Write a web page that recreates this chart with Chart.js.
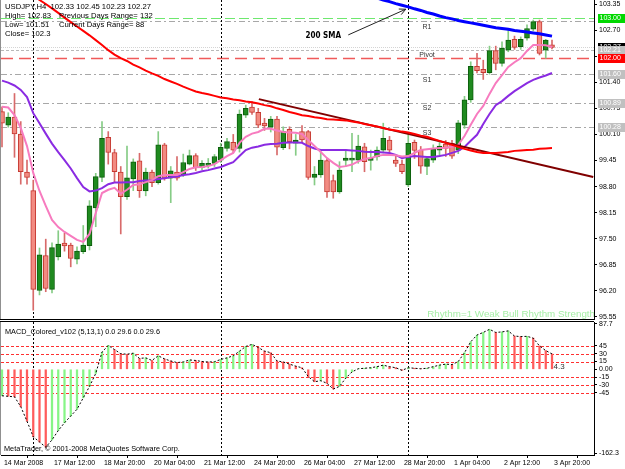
<!DOCTYPE html>
<html><head><meta charset="utf-8">
<script src="https://cdn.jsdelivr.net/npm/chart.js@4/dist/chart.umd.min.js"></script>
<style>
html,body{margin:0;padding:0;background:#fff;}
#wrap{position:relative;width:625px;height:469px;overflow:hidden;background:#fff;}
#c1{position:absolute;left:0;top:0;}
#c2{position:absolute;left:0;top:320px;}
</style></head><body>
<div id="wrap"><canvas id="c1" width="625" height="320"></canvas><canvas id="c2" width="625" height="149"></canvas></div>
<script>
// ---------- DATA ----------
const timeLabels = ['14 Mar 2008','17 Mar 12:00','18 Mar 20:00','20 Mar 04:00','21 Mar 12:00','24 Mar 20:00','26 Mar 04:00','27 Mar 12:00','28 Mar 20:00','1 Apr 04:00','2 Apr 12:00','3 Apr 20:00'];
const timeLabelBars = [0,8,16,24,32,40,48,56,64,72,80,88];
const weekStartBars = [5,35,65];

const openP = [100.67,100.33,100.53,100.11,99.16,98.70,96.21,97.08,96.24,97.05,
97.39,97.34,96.99,97.18,97.33,98.27,99.03,100.03,99.65,99.16,
98.55,98.99,99.44,98.69,99.16,98.90,99.84,99.01,99.16,99.09,
99.36,99.57,99.28,99.33,99.38,99.46,99.75,99.90,99.75,100.58,
100.78,100.65,100.38,100.28,100.48,99.77,100.23,99.88,100.17,100.17,
99.03,99.09,99.45,98.95,98.67,99.45,99.46,99.46,99.79,99.45,
99.54,99.71,99.96,99.46,99.36,98.84,99.90,99.71,99.30,99.46,
99.71,99.86,99.88,99.71,100.33,100.96,101.80,101.72,101.64,102.19,
101.87,102.20,102.47,102.29,102.50,102.72,102.91,102.20,102.33];
const highP = [100.79,100.64,101.12,100.42,99.46,98.96,97.27,97.49,97.40,97.70,
97.64,97.39,97.30,97.83,98.45,99.13,100.42,100.17,99.73,99.30,
99.81,99.49,99.63,99.26,99.21,100.17,99.88,99.30,99.55,99.61,
99.71,99.62,99.45,99.50,99.60,99.88,100.00,100.10,100.71,100.83,
100.92,100.75,100.50,100.55,100.55,100.29,100.29,100.10,100.32,100.20,
99.30,99.67,99.50,99.09,99.42,99.71,100.13,100.08,99.88,99.71,
99.79,100.38,100.05,99.58,99.46,100.13,99.96,99.80,99.55,99.84,
99.90,99.95,99.95,100.45,101.05,101.91,102.12,101.95,102.30,102.30,
102.41,102.72,102.55,102.53,102.83,102.95,102.95,102.47,102.45];
const lowP = [99.79,100.28,99.53,98.86,98.86,95.72,96.10,96.18,96.15,96.97,
97.19,96.80,96.87,97.13,97.22,97.80,98.92,99.36,98.92,97.62,
98.48,98.70,98.53,98.57,98.80,98.86,98.96,98.40,98.96,99.05,
99.34,99.20,99.22,99.26,99.30,99.40,99.68,99.64,99.66,100.52,
100.60,100.27,100.20,100.16,99.59,99.72,99.74,99.58,99.90,98.98,
98.84,99.03,98.53,98.51,98.63,99.30,99.17,99.38,99.17,99.21,
99.46,99.64,99.65,99.30,99.12,98.80,99.50,99.13,99.10,99.40,
99.55,99.55,99.50,99.62,100.25,100.90,101.63,101.47,101.60,101.71,
101.80,102.16,102.22,102.22,102.45,102.68,102.08,102.00,102.23];
const closeP = [100.38,100.53,100.11,99.17,99.03,96.24,97.10,96.26,97.28,97.37,
97.32,97.01,97.19,97.34,98.32,99.05,100.00,99.65,99.17,98.55,
99.02,99.42,98.70,99.16,98.90,99.84,99.01,99.19,99.01,99.40,
99.57,99.27,99.38,99.38,99.55,99.78,99.92,99.71,100.61,100.75,
100.65,100.33,100.31,100.48,99.78,100.17,99.92,99.96,99.96,99.03,
99.11,99.46,98.67,98.67,99.21,99.51,99.51,99.81,99.42,99.51,
99.71,100.00,99.71,99.38,99.17,99.88,99.70,99.31,99.50,99.73,
99.81,99.75,99.56,100.39,100.96,101.80,101.69,101.64,102.19,101.87,
102.25,102.45,102.27,102.47,102.74,102.91,102.12,102.45,102.27];

const maRed = [104.10,104.00,103.89,103.78,103.67,103.56,103.45,103.35,103.24,103.13,
103.01,102.90,102.79,102.68,102.57,102.45,102.33,102.20,102.09,102.00,
101.93,101.84,101.77,101.69,101.62,101.56,101.48,101.42,101.36,101.29,
101.23,101.17,101.13,101.10,101.06,101.02,101.00,100.97,100.95,100.92,
100.90,100.87,100.83,100.80,100.75,100.71,100.66,100.62,100.58,100.56,
100.53,100.51,100.48,100.47,100.46,100.45,100.42,100.40,100.36,100.33,
100.30,100.26,100.22,100.20,100.17,100.15,100.11,100.07,100.04,99.99,
99.94,99.89,99.84,99.79,99.74,99.70,99.66,99.64,99.64,99.64,
99.65,99.66,99.69,99.70,99.71,99.72,99.74,99.75,99.76];
const maBlue = [null,null,null,null,null,null,null,null,null,null,
null,null,null,null,null,null,null,null,null,null,
null,null,null,null,null,null,null,null,null,null,
null,null,null,null,null,null,null,null,null,null,
null,null,null,null,null,null,null,null,null,null,
null,null,null,null,null,null,null,null,null,null,
103.50,103.45,103.41,103.36,103.32,103.28,103.23,103.19,103.14,103.10,
103.05,103.01,102.98,102.94,102.91,102.88,102.85,102.82,102.79,102.76,
102.74,102.72,102.69,102.67,102.65,102.63,102.61,102.58,102.55];
const maPink = [100.79,100.77,100.58,100.26,99.81,99.14,98.69,98.32,97.97,97.79,
97.67,97.57,97.47,97.42,97.62,98.14,98.64,98.72,98.77,98.62,
98.72,98.84,98.86,98.91,98.96,99.06,99.09,99.09,99.09,99.16,
99.24,99.28,99.29,99.31,99.36,99.46,99.56,99.64,99.89,100.04,
100.12,100.16,100.24,100.24,100.20,100.16,100.15,100.14,100.11,99.96,
99.81,99.66,99.51,99.39,99.29,99.31,99.35,99.43,99.49,99.51,
99.56,99.59,99.59,99.58,99.55,99.56,99.64,99.71,99.73,99.75,
99.76,99.77,99.79,99.84,100.06,100.34,100.61,100.81,101.11,101.38,
101.58,101.78,101.90,102.00,102.18,102.33,102.33,102.32,102.28];
const maPurple = [101.44,101.39,101.32,101.21,101.03,100.63,100.38,100.12,99.87,99.66,
99.46,99.25,99.01,98.79,98.68,98.70,98.76,98.86,98.90,98.90,
98.91,98.91,98.94,98.95,98.96,98.99,99.01,99.03,99.05,99.09,
99.11,99.14,99.18,99.21,99.25,99.29,99.35,99.41,99.56,99.71,
99.77,99.80,99.84,99.86,99.87,99.89,99.90,99.90,99.89,99.81,
99.75,99.71,99.71,99.71,99.71,99.71,99.70,99.69,99.67,99.66,
99.66,99.65,99.64,99.59,99.51,99.54,99.56,99.55,99.54,99.54,
99.56,99.59,99.64,99.69,99.79,99.94,100.09,100.36,100.61,100.83,
100.93,101.06,101.18,101.28,101.38,101.46,101.52,101.57,101.63];

const trendBars = [41.1, 94.6];
const trendPrices = [100.98, 99.04];

const priceTicks = [95.55,96.20,96.85,97.50,98.15,98.80,99.45,100.10,100.75,101.40,102.05,102.70,103.35];
const levelValues = [103.00, 102.92, 102.27, 102.21, 102.00, 101.60, 100.89, 100.28];
const levelNames  = ['', 'R1', '', 'Pivot', '', 'S1', 'S2', 'S3'];
const levelLabelBar = 68;
const boxValues = [103.00, 102.27, 102.21, 102.00, 101.60, 100.89, 100.28];

const headerLines = ['USDJPY,H4  102.33 102.45 102.23 102.27', 'High= 102.83', 'Low= 101.51', 'Close= 102.3'];
const headerRight = ['', 'Previous Days Range= 132', 'Current Days Range= 88', ''];
const smaNote = '200 SMA';
const rhythmText = 'Rhythm=1 Weak Bull Rhythm Strength';

const macdHist = [-51,-52,-53,-72,-100,-130,-140,-150,-136,-118,
-103,-90,-77,-55,-33,-8,33,46,38,30,
29,31,21,22,17,26,20,16,13,14,
18,17,15,14,14.5,19,22,26,35,44,
48,42,35,32,16,14,10,6,3,-14,
-24,-22,-27,-38,-33,-17,-5,1,2,3,
5,8,5,3,-2,3,2,1,2,5,
8,10,9,15,32,53,66,71,77,71,
72,74,64,63,63.5,60,45,36,29.6];
const macdTicks = [87.7,45,30,15,0,-15,-30,-45,-162.3];
const macdLevels = [45,30,15,-15,-30,-45];
const macdTitle = 'MACD_Colored_v102 (5,13,1) 0.0 29.6 0.0 29.6';
const macdLastNote = '4.3';
const copyright = 'MetaTrader, \u00a9 2001-2008 MetaQuotes Software Corp.';

// ---------- STYLE ----------
const FONT = '"Liberation Sans", Arial, sans-serif';
const bullBody = '#1f8a1f', bullBorder = '#0d5e0d', bullWick = '#86cc86';
const bearBody = '#f28b82', bearBorder = '#c63a32', bearWick = '#d86a6a';
const levelStyles = [
  {color:'#6ee86e', dash:[10,4], width:1},
  {color:'#a8a8a8', dash:[6,3,2,3], width:1},
  {color:'#d4d4d4', dash:[1,1], width:1},
  {color:'#b8b8b8', dash:[3,2], width:1},
  {color:'#f05a5a', dash:[12,6], width:1.5},
  {color:'#a8a8a8', dash:[6,3,2,3], width:1},
  {color:'#a8a8a8', dash:[6,3,2,3], width:1},
  {color:'#a8a8a8', dash:[6,3,2,3], width:1}
];
const boxColors = ['#00d800','#000000','#c0c0c0','#ff0000','#c0c0c0','#c0c0c0','#c0c0c0'];

const bars = openP.map((_, i) => i);
const X_MIN = -0.16, X_MAX = 94.72;

// ---------- PRICE PANEL ----------
const pricePlugin = {
  id: 'priceDecor',
  beforeDatasetsDraw(chart) {
    const {ctx, chartArea: a, scales: {x, y}} = chart;
    ctx.save();
    ctx.beginPath(); ctx.rect(a.left, a.top, a.right - a.left, a.bottom - a.top); ctx.clip();
    levelValues.forEach((v, k) => {
      const st = levelStyles[k];
      const py = Math.round(y.getPixelForValue(v)) + 0.5;
      ctx.strokeStyle = st.color; ctx.lineWidth = st.width; ctx.setLineDash(st.dash);
      ctx.beginPath(); ctx.moveTo(a.left, py); ctx.lineTo(a.right, py); ctx.stroke();
    });
    ctx.setLineDash([2, 2]); ctx.strokeStyle = '#000'; ctx.lineWidth = 1;
    weekStartBars.forEach(b => {
      const px = Math.round(x.getPixelForValue(b)) + 0.5;
      ctx.beginPath(); ctx.moveTo(px, a.top); ctx.lineTo(px, a.bottom); ctx.stroke();
    });
    ctx.setLineDash([]);
    ctx.font = '7px ' + FONT; ctx.fillStyle = '#333'; ctx.textAlign = 'center'; ctx.textBaseline = 'middle';
    levelNames.forEach((n, k) => {
      if (!n) return;
      ctx.fillText(n, x.getPixelForValue(levelLabelBar), y.getPixelForValue(levelValues[k]) + 5.5);
    });
    ctx.restore();
  },
  afterDraw(chart) {
    const {ctx, chartArea: a, scales: {x, y}} = chart;
    ctx.save();
    // borders
    ctx.strokeStyle = '#000'; ctx.lineWidth = 1;
    ctx.beginPath(); ctx.moveTo(0, a.bottom + 0.5); ctx.lineTo(a.right, a.bottom + 0.5); ctx.stroke();
    ctx.strokeStyle = '#909090';
    ctx.beginPath(); ctx.moveTo(0.5, 0); ctx.lineTo(0.5, a.bottom); ctx.stroke();
    // header
    ctx.font = '7.7px ' + FONT; ctx.fillStyle = '#000'; ctx.textAlign = 'left'; ctx.textBaseline = 'middle';
    const lineY = [6.7, 15.7, 25, 34];
    headerLines.forEach((t, k) => ctx.fillText(t, 5, lineY[k]));
    headerRight.forEach((t, k) => { if (t) ctx.fillText(t, 59, lineY[k]); });
    // 200 SMA note + arrow (anchored in data space)
    ctx.font = 'bold 8px "DejaVu Sans Condensed", "DejaVu Sans", sans-serif';
    ctx.textAlign = 'center';
    ctx.fillText(smaNote, x.getPixelForValue(51.4), y.getPixelForValue(102.55));
    const tx = x.getPixelForValue(55.4), ty = y.getPixelForValue(102.58);
    const hx = x.getPixelForValue(64.6), hy = y.getPixelForValue(103.22);
    ctx.strokeStyle = '#222'; ctx.lineWidth = 1;
    ctx.beginPath(); ctx.moveTo(tx, ty); ctx.lineTo(hx, hy); ctx.stroke();
    const ang = Math.atan2(hy - ty, hx - tx);
    ctx.beginPath();
    ctx.moveTo(hx - 7 * Math.cos(ang - 0.45), hy - 7 * Math.sin(ang - 0.45)); ctx.lineTo(hx, hy);
    ctx.lineTo(hx - 7 * Math.cos(ang + 0.45), hy - 7 * Math.sin(ang + 0.45));
    ctx.stroke();
    // rhythm text
    ctx.save();
    ctx.beginPath(); ctx.rect(a.left, a.top, a.right - a.left, a.bottom - a.top); ctx.clip();
    ctx.font = '9.8px ' + FONT; ctx.fillStyle = '#a6eea6'; ctx.textAlign = 'right'; ctx.textBaseline = 'middle';
    ctx.fillText(rhythmText, a.right + 1, a.bottom - 5);
    ctx.restore();
    // axis boxes
    ctx.font = '7px ' + FONT; ctx.textAlign = 'left'; ctx.textBaseline = 'middle';
    boxValues.forEach((v, k) => {
      const py = Math.round(y.getPixelForValue(v));
      ctx.fillStyle = boxColors[k];
      ctx.fillRect(a.right + 4, py - 4, 31, 9);
      ctx.fillStyle = '#fff';
      ctx.fillText(v.toFixed(2), a.right + 5.5, py + 0.5);
    });
    ctx.restore();
  }
};

const lineDs = (arr, color, width, order) => ({
  type: 'line', data: bars.map(i => ({x: i, y: arr[i]})), borderColor: color, borderWidth: width,
  pointRadius: 0, tension: 0, order: order, spanGaps: false
});

new Chart(document.getElementById('c1'), {
  type: 'bar',
  data: { datasets: [
    lineDs(maBlue, '#0000ff', 3, 1),
    lineDs(maRed, '#ff0000', 2, 2),
    { type: 'line', data: trendBars.map((b, k) => ({x: b, y: trendPrices[k]})), borderColor: '#800000', borderWidth: 2, pointRadius: 0, order: 2 },
    lineDs(maPink, '#f77bbf', 2, 3),
    lineDs(maPurple, '#8a2be2', 2, 3),
    { type: 'bar', data: bars.map(i => ({x: i, y: [openP[i], closeP[i]]})),
      backgroundColor: c => closeP[c.dataIndex] >= openP[c.dataIndex] ? bullBody : bearBody,
      borderColor: c => closeP[c.dataIndex] >= openP[c.dataIndex] ? bullBorder : bearBorder,
      borderWidth: 1, borderSkipped: false, barThickness: 5, minBarLength: 1, grouped: false, order: 5 },
    { type: 'bar', data: bars.map(i => ({x: i, y: [lowP[i], highP[i]]})),
      backgroundColor: c => closeP[c.dataIndex] >= openP[c.dataIndex] ? bullWick : bearWick,
      borderWidth: 0, barThickness: 1, grouped: false, order: 6 }
  ]},
  options: {
    responsive: false, animation: false, events: [],
    layout: { padding: { left: 1, top: 0, right: 0, bottom: 1 } },
    plugins: { legend: { display: false }, tooltip: { enabled: false } },
    scales: {
      x: { type: 'linear', min: X_MIN, max: X_MAX, display: false, offset: false },
      y: { position: 'right', min: 95.50, max: 103.45,
        afterFit: s => { s.width = 31; s.paddingTop = 0; s.paddingBottom = 0; },
        afterBuildTicks: s => { s.ticks = priceTicks.map(v => ({value: v})); },
        ticks: { callback: v => Number(v).toFixed(2), font: { family: FONT, size: 7 }, color: '#000', padding: 2, autoSkip: false },
        grid: { drawOnChartArea: false, drawTicks: true, tickLength: 3, color: '#000' },
        border: { display: true, color: '#000' } }
    }
  },
  plugins: [pricePlugin]
});

// ---------- MACD PANEL ----------
const macdPlugin = {
  id: 'macdDecor',
  beforeDatasetsDraw(chart) {
    const {ctx, chartArea: a, scales: {x, y}} = chart;
    ctx.save();
    ctx.beginPath(); ctx.rect(a.left, a.top, a.right - a.left, a.bottom - a.top); ctx.clip();
    ctx.strokeStyle = '#ff3030'; ctx.lineWidth = 1; ctx.setLineDash([3, 2]);
    macdLevels.forEach(v => {
      const py = Math.round(y.getPixelForValue(v)) + 0.5;
      ctx.beginPath(); ctx.moveTo(a.left, py); ctx.lineTo(a.right, py); ctx.stroke();
    });
    ctx.strokeStyle = '#000'; ctx.setLineDash([2, 2]);
    weekStartBars.forEach(b => {
      const px = Math.round(x.getPixelForValue(b)) + 0.5;
      ctx.beginPath(); ctx.moveTo(px, a.top); ctx.lineTo(px, a.bottom); ctx.stroke();
    });
    ctx.restore();
  },
  afterDraw(chart) {
    const {ctx, chartArea: a, scales: {x, y}} = chart;
    ctx.save();
    ctx.strokeStyle = '#000'; ctx.lineWidth = 1;
    ctx.beginPath(); ctx.moveTo(0, a.top - 0.5); ctx.lineTo(a.right, a.top - 0.5); ctx.stroke();
    ctx.strokeStyle = '#909090';
    ctx.beginPath(); ctx.moveTo(0.5, a.top); ctx.lineTo(0.5, a.bottom); ctx.stroke();
    ctx.font = '7.3px ' + FONT; ctx.fillStyle = '#000'; ctx.textAlign = 'left'; ctx.textBaseline = 'middle';
    ctx.fillText(macdTitle, 5, a.top + 9.5);
    ctx.fillText(copyright, 4, a.bottom - 6.5);
    ctx.font = '8px ' + FONT; ctx.fillStyle = '#333';
    ctx.fillText(macdLastNote, x.getPixelForValue(88.25), y.getPixelForValue(4.3));
    ctx.restore();
  }
};

const macdTrend = macdHist.map((v, i) => (i === 0 || v > macdHist[i - 1]) ? 'up' : 'down');

new Chart(document.getElementById('c2'), {
  type: 'bar',
  data: { datasets: [
    { type: 'line', data: bars.map(i => ({x: i, y: macdHist[i]})), borderColor: '#000', borderWidth: 1,
      borderDash: [2, 2], pointRadius: 0, tension: 0, order: 1 },
    { type: 'bar', data: bars.map(i => ({x: i, y: macdHist[i]})),
      backgroundColor: c => macdTrend[c.dataIndex] === 'up' ? '#86f586' : '#ff5c5c',
      borderWidth: 0, barThickness: 1.6, grouped: false, order: 2 }
  ]},
  options: {
    responsive: false, animation: false, events: [],
    layout: { padding: { left: 1, top: 2, right: 0, bottom: 0 } },
    plugins: { legend: { display: false }, tooltip: { enabled: false } },
    scales: {
      x: { type: 'linear', min: X_MIN, max: X_MAX, offset: false,
        afterFit: s => { s.height = 14; s.paddingLeft = 0; s.paddingRight = 0; },
        afterBuildTicks: s => { s.ticks = timeLabelBars.map(b => ({value: b})); },
        ticks: { callback: (v, idx) => ' ' + timeLabels[idx], align: 'start', maxRotation: 0, autoSkip: false,
          font: { family: FONT, size: 7 }, color: '#000', padding: 1 },
        grid: { drawOnChartArea: false, drawTicks: true, tickLength: 3, color: '#000' },
        border: { display: true, color: '#000' } },
      y: { position: 'right', min: -165.1, max: 91.1,
        afterFit: s => { s.width = 31; s.paddingTop = 0; s.paddingBottom = 0; },
        afterBuildTicks: s => { s.ticks = macdTicks.map(v => ({value: v})); },
        ticks: { callback: v => v === 0 ? '0.00' : String(v), font: { family: FONT, size: 7 }, color: '#000', padding: 2, autoSkip: false },
        grid: { drawOnChartArea: false, drawTicks: true, tickLength: 3, color: '#000' },
        border: { display: true, color: '#000' } }
    }
  },
  plugins: [macdPlugin]
});
</script>
</body></html>
